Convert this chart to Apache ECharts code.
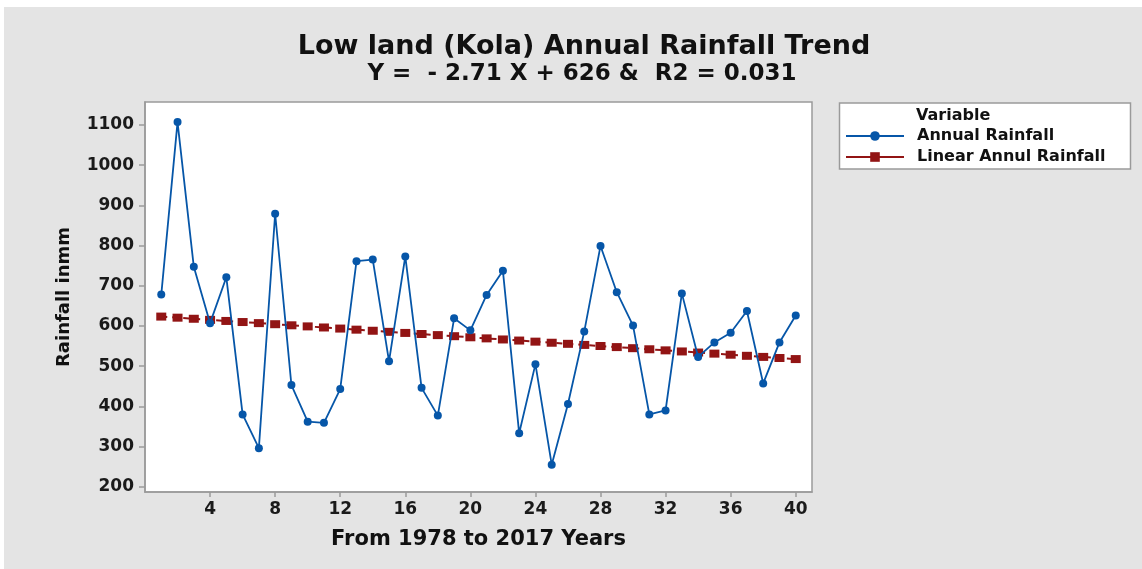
<!DOCTYPE html>
<html>
<head>
<meta charset="utf-8">
<title>Low land (Kola) Annual Rainfall Trend</title>
<script src="https://cdn.jsdelivr.net/npm/echarts@6/dist/echarts.min.js"></script>
<style>
  html, body { margin: 0; padding: 0; background: #ffffff; }
  #chart { width: 1142px; height: 569px; }
</style>
</head>
<body>
<div id="chart"></div>
<script>
// Year number (1 = 1978 ... 40 = 2017)
const yearIndex = [1, 2, 3, 4, 5, 6, 7, 8, 9, 10, 11, 12, 13, 14, 15, 16, 17, 18, 19, 20,
                   21, 22, 23, 24, 25, 26, 27, 28, 29, 30, 31, 32, 33, 34, 35, 36, 37, 38, 39, 40];

// Annual rainfall, mm
const annualRainfall = [678, 1107, 747, 607, 721, 380, 296, 879, 453, 362,
                        359, 443, 761, 765, 512, 773, 446, 377, 619, 589,
                        677, 737, 333, 505, 255, 406, 586, 799, 684, 601,
                        380, 390, 681, 523, 559, 583, 637, 457, 559, 626];

// Fitted trend values (Y = -2.71 X + 626)
const linearRainfall = [623.29, 620.58, 617.87, 615.16, 612.45, 609.74, 607.03, 604.32, 601.61, 598.90,
                        596.19, 593.48, 590.77, 588.06, 585.35, 582.64, 579.93, 577.22, 574.51, 571.80,
                        569.09, 566.38, 563.67, 560.96, 558.25, 555.54, 552.83, 550.12, 547.41, 544.70,
                        541.99, 539.28, 536.57, 533.86, 531.15, 528.44, 525.73, 523.02, 520.31, 517.60];

// Axis tick labels
const xTicks = [4, 8, 12, 16, 20, 24, 28, 32, 36, 40];
const yTicks = [200, 300, 400, 500, 600, 700, 800, 900, 1000, 1100];

const FONT = 'DejaVu Sans';
const BLUE = '#0656a8';
const RED = '#921414';
const FRAME = '#9a9a9a';

const pair = (xs, ys) => xs.map((x, i) => [x, ys[i]]);

const chart = echarts.init(document.getElementById('chart'), null, { renderer: 'canvas' });

chart.setOption({
  backgroundColor: '#e4e4e4',
  animation: false,
  title: [
    {
      text: 'Low land (Kola) Annual Rainfall Trend',
      left: 579, top: 28, textAlign: 'center',
      textStyle: { fontFamily: FONT, fontWeight: 'bold', fontSize: 27, color: '#111' }
    },
    {
      text: 'Y =  - 2.71 X + 626 &  R2 = 0.031',
      left: 577, top: 58, textAlign: 'center',
      textStyle: { fontFamily: FONT, fontWeight: 'bold', fontSize: 23, color: '#111' }
    }
  ],
  graphic: [
    // white strips along the top and left edges
    { type: 'rect', shape: { x: 0, y: 0, width: 1142, height: 7 }, style: { fill: '#ffffff' }, silent: true },
    { type: 'rect', shape: { x: 0, y: 0, width: 4, height: 569 }, style: { fill: '#ffffff' }, silent: true },
    // legend frame and header
    { type: 'rect', z: 0, shape: { x: 839.5, y: 103, width: 291, height: 66 },
      style: { fill: '#ffffff', stroke: FRAME, lineWidth: 1.5 }, silent: true },
    { type: 'text', z: 5, x: 916, y: 116,
      style: { text: 'Variable', fontFamily: FONT, fontWeight: 'bold', fontSize: 16, fill: '#111',
               textAlign: 'left', textVerticalAlign: 'middle' } }
  ],
  legend: {
    orient: 'vertical',
    left: 845, top: 128,
    padding: 0,
    itemWidth: 58, itemHeight: 12, itemGap: 5,
    lineStyle: { type: 'solid', width: 2 },
    textStyle: { fontFamily: FONT, fontWeight: 'bold', fontSize: 16, color: '#111', padding: [0, 0, 0, 8] },
    data: ['Annual Rainfall', 'Linear Annul Rainfall']
  },
  grid: {
    left: 145, right: 330, top: 102, bottom: 77,
    show: true, backgroundColor: '#ffffff', borderColor: FRAME, borderWidth: 1.5
  },
  xAxis: {
    type: 'value', min: 0, max: 41,
    name: 'From 1978 to 2017 Years', nameLocation: 'middle', nameGap: 37,
    nameTextStyle: { fontFamily: FONT, fontWeight: 'bold', fontSize: 21, color: '#111' },
    axisLine: { show: true, lineStyle: { color: FRAME, width: 1.5 } },
    axisTick: { show: true, length: 5, customValues: xTicks, lineStyle: { color: FRAME, width: 1.5 } },
    axisLabel: { customValues: xTicks, margin: 9, fontFamily: FONT, fontWeight: 'bold', fontSize: 17, color: '#1a1a1a',
                 formatter: (v) => String(v) },
    splitLine: { show: false }
  },
  yAxis: {
    type: 'value', min: 187, max: 1157,
    name: 'Rainfall inmm', nameLocation: 'middle', nameGap: 72,
    nameTextStyle: { fontFamily: FONT, fontWeight: 'bold', fontSize: 18, color: '#111' },
    axisLine: { show: true, lineStyle: { color: FRAME, width: 1.5 } },
    axisTick: { show: true, length: 6, customValues: yTicks, lineStyle: { color: FRAME, width: 1.5 } },
    axisLabel: { customValues: yTicks, margin: 11, fontFamily: FONT, fontWeight: 'bold', fontSize: 17, color: '#1a1a1a',
                 formatter: (v) => String(v) },
    splitLine: { show: false }
  },
  series: [
    {
      name: 'Annual Rainfall',
      type: 'line',
      data: pair(yearIndex, annualRainfall),
      symbol: 'circle', symbolSize: 8,
      lineStyle: { color: BLUE, width: 1.8 },
      itemStyle: { color: BLUE },
      z: 3
    },
    {
      name: 'Linear Annul Rainfall',
      type: 'line',
      data: pair(yearIndex, linearRainfall),
      symbol: 'rect', symbolSize: [10, 8],
      lineStyle: { color: RED, width: 2, type: [6, 5] },
      itemStyle: { color: RED },
      z: 2
    }
  ]
});
</script>
</body>
</html>
